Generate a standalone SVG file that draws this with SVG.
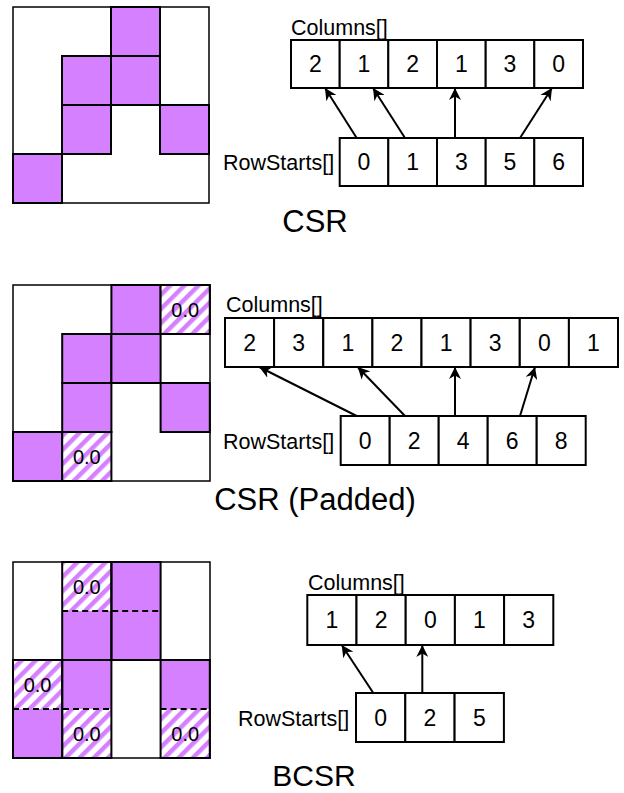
<svg xmlns="http://www.w3.org/2000/svg" width="624" height="793" viewBox="0 0 624 793">
<defs>
<pattern id="hatch" patternUnits="userSpaceOnUse" width="10" height="10" patternTransform="rotate(45)">
<rect x="0" y="0" width="10" height="10" fill="#fff"/>
<rect x="0" y="0" width="4.5" height="10" fill="#d580ff"/>
</pattern>
<marker id="arr" viewBox="0 0 10 10" refX="10" refY="5" markerWidth="12" markerHeight="12" markerUnits="userSpaceOnUse" orient="auto">
<path d="M0,0 L10,5 L0,10 L3,5 z" fill="#000"/>
</marker>
<style>
text{font-family:"Liberation Sans",Arial,Helvetica,sans-serif;fill:#000}
.frame{fill:#fff;stroke:#000;stroke-width:1.5}
.nz{fill:#d580ff;stroke:#000;stroke-width:2}
.pad{fill:url(#hatch);stroke:#000;stroke-width:2}
.blk{fill:none;stroke:#000;stroke-width:2}
.dash{stroke:#000;stroke-width:2;stroke-dasharray:6 4;fill:none}
.cell{fill:#fff;stroke:#000;stroke-width:2}
.v{font-size:23px;text-anchor:middle}
.lbl{font-size:21.5px}
.z{font-size:20px;text-anchor:middle}
.title{font-size:31px;text-anchor:middle}
.con{stroke:#000;stroke-width:2;fill:none;marker-end:url(#arr)}
</style>
</defs>

<!-- CSR matrix -->
<g id="csr-matrix">
<rect class="frame" x="13" y="7" width="196" height="196"/>
<rect class="nz" x="111" y="7" width="49" height="49"/>
<rect class="nz" x="62" y="56" width="49" height="49"/>
<rect class="nz" x="111" y="56" width="49" height="49"/>
<rect class="nz" x="62" y="105" width="49" height="49"/>
<rect class="nz" x="160" y="105" width="49" height="49"/>
<rect class="nz" x="13" y="154" width="49" height="49"/>
</g>

<g id="csr-columns">
<text class="lbl" x="291" y="35">Columns[]</text>
<rect class="cell" x="291" y="40" width="48.7" height="48"/>
<rect class="cell" x="339.7" y="40" width="48.7" height="48"/>
<rect class="cell" x="388.3" y="40" width="48.7" height="48"/>
<rect class="cell" x="437" y="40" width="48.7" height="48"/>
<rect class="cell" x="485.7" y="40" width="48.7" height="48"/>
<rect class="cell" x="534.3" y="40" width="48.7" height="48"/>
<text class="v" x="315.3" y="72">2</text>
<text class="v" x="364" y="72">1</text>
<text class="v" x="412.7" y="72">2</text>
<text class="v" x="461.3" y="72">1</text>
<text class="v" x="510" y="72">3</text>
<text class="v" x="558.7" y="72">0</text>
</g>

<g id="csr-rowstarts">
<text class="lbl" x="223" y="170">RowStarts[]</text>
<rect class="cell" x="339.7" y="138" width="48.7" height="48"/>
<rect class="cell" x="388.3" y="138" width="48.7" height="48"/>
<rect class="cell" x="437" y="138" width="48.7" height="48"/>
<rect class="cell" x="485.7" y="138" width="48.7" height="48"/>
<rect class="cell" x="534.3" y="138" width="48.7" height="48"/>
<text class="v" x="364" y="170">0</text>
<text class="v" x="412.7" y="170">1</text>
<text class="v" x="461.3" y="170">3</text>
<text class="v" x="510" y="170">5</text>
<text class="v" x="558.7" y="170">6</text>
</g>

<text class="title" x="315" y="231.5">CSR</text>

<!-- CSR padded matrix -->
<g id="csr-padded-matrix">
<rect class="frame" x="13" y="285" width="197" height="196"/>
<rect class="nz" x="111.4" y="285" width="49.2" height="49"/>
<rect class="pad" x="160.6" y="285" width="49.2" height="49"/>
<rect class="nz" x="62.2" y="334" width="49.2" height="49"/>
<rect class="nz" x="111.4" y="334" width="49.2" height="49"/>
<rect class="nz" x="62.2" y="383" width="49.2" height="49"/>
<rect class="nz" x="160.6" y="383" width="49.2" height="49"/>
<rect class="nz" x="13" y="432" width="49.2" height="49"/>
<rect class="pad" x="62.2" y="432" width="49.2" height="49"/>
<text class="z" x="185.2" y="316.5">0.0</text>
<text class="z" x="86.8" y="463.5">0.0</text>
</g>

<g id="csr-padded-columns">
<text class="lbl" x="226" y="312">Columns[]</text>
<rect class="cell" x="225" y="318" width="49.1" height="49"/>
<rect class="cell" x="274.1" y="318" width="49.1" height="49"/>
<rect class="cell" x="323.3" y="318" width="49.1" height="49"/>
<rect class="cell" x="372.4" y="318" width="49.1" height="49"/>
<rect class="cell" x="421.5" y="318" width="49.1" height="49"/>
<rect class="cell" x="470.6" y="318" width="49.1" height="49"/>
<rect class="cell" x="519.8" y="318" width="49.1" height="49"/>
<rect class="cell" x="568.9" y="318" width="49.1" height="49"/>
<text class="v" x="249.6" y="350.5">2</text>
<text class="v" x="298.7" y="350.5">3</text>
<text class="v" x="347.8" y="350.5">1</text>
<text class="v" x="396.9" y="350.5">2</text>
<text class="v" x="446.1" y="350.5">1</text>
<text class="v" x="495.2" y="350.5">3</text>
<text class="v" x="544.3" y="350.5">0</text>
<text class="v" x="593.4" y="350.5">1</text>
</g>

<g id="csr-padded-rowstarts">
<text class="lbl" x="223" y="448.5">RowStarts[]</text>
<rect class="cell" x="340.7" y="416" width="49" height="49"/>
<rect class="cell" x="389.7" y="416" width="49" height="49"/>
<rect class="cell" x="438.7" y="416" width="49" height="49"/>
<rect class="cell" x="487.7" y="416" width="49" height="49"/>
<rect class="cell" x="536.7" y="416" width="49" height="49"/>
<text class="v" x="365.2" y="448.5">0</text>
<text class="v" x="414.2" y="448.5">2</text>
<text class="v" x="463.2" y="448.5">4</text>
<text class="v" x="512.2" y="448.5">6</text>
<text class="v" x="561.2" y="448.5">8</text>
</g>

<text class="title" x="315" y="510">CSR (Padded)</text>

<!-- BCSR matrix -->
<g id="bcsr-matrix">
<rect class="frame" x="13" y="562" width="197" height="196"/>
<rect class="pad" x="62.2" y="562" width="49.2" height="49" style="stroke:none"/>
<rect class="nz" x="111.4" y="562" width="49.2" height="49" style="stroke:none"/>
<rect class="nz" x="62.2" y="611" width="49.2" height="49" style="stroke:none"/>
<rect class="nz" x="111.4" y="611" width="49.2" height="49" style="stroke:none"/>
<rect class="pad" x="13" y="660" width="49.2" height="49" style="stroke:none"/>
<rect class="nz" x="62.2" y="660" width="49.2" height="49" style="stroke:none"/>
<rect class="nz" x="160.6" y="660" width="49.2" height="49" style="stroke:none"/>
<rect class="nz" x="13" y="709" width="49.2" height="49" style="stroke:none"/>
<rect class="pad" x="62.2" y="709" width="49.2" height="49" style="stroke:none"/>
<rect class="pad" x="160.6" y="709" width="49.2" height="49" style="stroke:none"/>
<rect class="blk" x="62.2" y="562" width="49.2" height="98"/>
<rect class="blk" x="111.4" y="562" width="49.2" height="98"/>
<rect class="blk" x="13" y="660" width="49.2" height="98"/>
<rect class="blk" x="62.2" y="660" width="49.2" height="98"/>
<rect class="blk" x="160.6" y="660" width="49.2" height="98"/>
<line class="dash" x1="62.2" y1="611" x2="160.6" y2="611"/>
<line class="dash" x1="13" y1="709" x2="111.4" y2="709"/>
<line class="dash" x1="160.6" y1="709" x2="209.8" y2="709"/>
<text class="z" x="86.8" y="593.5">0.0</text>
<text class="z" x="37.6" y="691.5">0.0</text>
<text class="z" x="86.8" y="740.5">0.0</text>
<text class="z" x="185.2" y="740.5">0.0</text>
</g>

<g id="bcsr-columns">
<text class="lbl" x="308" y="590">Columns[]</text>
<rect class="cell" x="307.3" y="595" width="49.2" height="50"/>
<rect class="cell" x="356.5" y="595" width="49.2" height="50"/>
<rect class="cell" x="405.7" y="595" width="49.2" height="50"/>
<rect class="cell" x="454.9" y="595" width="49.2" height="50"/>
<rect class="cell" x="504.1" y="595" width="49.2" height="50"/>
<text class="v" x="331.9" y="628">1</text>
<text class="v" x="381.1" y="628">2</text>
<text class="v" x="430.3" y="628">0</text>
<text class="v" x="479.5" y="628">1</text>
<text class="v" x="528.7" y="628">3</text>
</g>

<g id="bcsr-rowstarts">
<text class="lbl" x="238" y="725.5">RowStarts[]</text>
<rect class="cell" x="356" y="693" width="49.3" height="49"/>
<rect class="cell" x="405.3" y="693" width="49.3" height="49"/>
<rect class="cell" x="454.6" y="693" width="49.3" height="49"/>
<text class="v" x="380.7" y="725.5">0</text>
<text class="v" x="430" y="725.5">2</text>
<text class="v" x="479.3" y="725.5">5</text>
</g>

<text class="title" x="314" y="786" style="font-size:30px">BCSR</text>

<g id="connectors">
<line class="con" x1="356.7" y1="138" x2="325" y2="88"/>
<line class="con" x1="405" y1="138" x2="373" y2="88"/>
<line class="con" x1="455" y1="138" x2="455" y2="88"/>
<line class="con" x1="520" y1="138" x2="552" y2="88"/>
<line class="con" x1="356.7" y1="416" x2="259.3" y2="367"/>
<line class="con" x1="405" y1="416" x2="357.7" y2="367"/>
<line class="con" x1="455" y1="416" x2="455" y2="367"/>
<line class="con" x1="520" y1="416" x2="535" y2="367"/>
<line class="con" x1="373.3" y1="693" x2="341.7" y2="645"/>
<line class="con" x1="422.3" y1="693" x2="422.3" y2="645"/>
</g>
</svg>
